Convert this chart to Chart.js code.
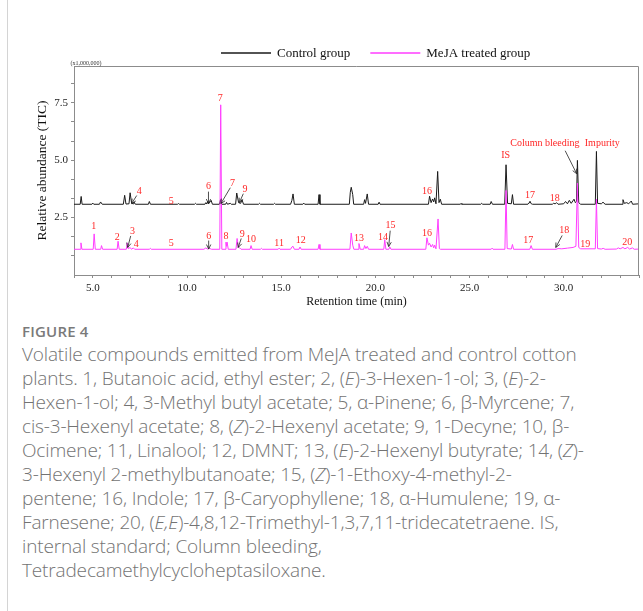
<!DOCTYPE html>
<html>
<head>
<meta charset="utf-8">
<script src="https://cdn.jsdelivr.net/npm/chart.js@4/dist/chart.umd.min.js"></script>
<style>
  html, body { margin: 0; padding: 0; background: #fff; }
  body { width: 643px; height: 611px; position: relative; overflow: hidden; }
  #edge { position: absolute; left: 7px; top: 0; width: 1px; height: 611px; background: #d4d4d4; }
  #wrap { position: absolute; left: 0; top: 0; width: 643px; height: 312px; }
  #caption { position: absolute; left: 22px; top: 320px; font-family: "Open Sans", sans-serif; color: #737373; }
  #caption .fig { font-size: 15px; font-weight: 600; color: #7a7a7a; line-height: 22px; letter-spacing: 0.2px; }
  #caption .txt { font-size: 19px; font-weight: 300; line-height: 24px; white-space: nowrap; letter-spacing: -0.15px; }
</style>
</head>
<body>
<div id="edge"></div>
<div id="wrap"><canvas id="gcms"></canvas></div>
<div id="caption">
  <div class="fig">FIGURE 4</div>
  <div class="txt">Volatile compounds emitted from MeJA treated and control cotton<br>plants. 1, Butanoic acid, ethyl ester; 2, (<i>E</i>)-3-Hexen-1-ol; 3, (<i>E</i>)-2-<br>Hexen-1-ol; 4, 3-Methyl butyl acetate; 5, α-Pinene; 6, β-Myrcene; 7,<br>cis-3-Hexenyl acetate; 8, (<i>Z</i>)-2-Hexenyl acetate; 9, 1-Decyne; 10, β-<br>Ocimene; 11, Linalool; 12, DMNT; 13, (<i>E</i>)-2-Hexenyl butyrate; 14, (<i>Z</i>)-<br>3-Hexenyl 2-methylbutanoate; 15, (<i>Z</i>)-1-Ethoxy-4-methyl-2-<br>pentene; 16, Indole; 17, β-Caryophyllene; 18, α-Humulene; 19, α-<br>Farnesene; 20, (<i>E,E</i>)-4,8,12-Trimethyl-1,3,7,11-tridecatetraene. IS,<br>internal standard; Column bleeding,<br>Tetradecamethylcycloheptasiloxane.</div>
</div>
<script>
// ── data (retention time in min, abundance x1,000,000) ──
const controlTime = [
  4.0, 4.33, 4.38, 4.43, 4.95, 5.0, 5.05, 5.35, 5.41, 5.5,
  6.62, 6.69, 6.76, 6.92, 6.98, 7.06, 7.15, 7.18, 7.26,
  7.95, 8.0, 8.06, 9.5, 9.55, 9.6, 10.4, 10.45, 10.5,
  10.95, 11.0, 11.05, 11.1, 11.15, 11.28, 11.35,
  11.72, 11.78, 11.84, 12.05, 12.1, 12.15, 12.3, 12.35,
  12.58, 12.64, 12.74, 12.85, 12.92, 13.0,
  13.8, 13.85, 13.9, 14.6, 14.65, 14.7,
  15.5, 15.57, 15.63, 15.7, 16.15, 16.2, 16.25,
  16.96, 17.01, 17.06, 18.62, 18.67, 18.72, 18.8, 18.85,
  19.38, 19.43, 19.48, 19.57, 19.64, 20.15, 20.2, 20.25,
  22.82, 22.88, 22.96, 23.04, 23.1, 23.15, 23.22, 23.31, 23.38, 23.45, 23.52,
  24.5, 24.55, 24.6, 25.6, 25.65, 25.7, 26.1, 26.15, 26.22,
  26.87, 26.94, 27.02, 27.22, 27.28, 27.34,
  28.1, 28.16, 28.21, 28.28, 28.35, 29.4, 29.45, 29.55, 29.62, 29.7,
  30.0, 30.1, 30.2, 30.3, 30.4, 30.55, 30.62, 30.68, 30.73, 30.8, 30.9,
  31.68, 31.74, 31.8, 32.0, 32.09, 32.2,
  33.1, 33.15, 33.22, 33.35, 33.45, 33.59, 33.66, 34.0
];
const controlAbund = [
  3.08, 3.08, 3.42, 3.08, 3.08, 3.13, 3.08, 3.08, 3.18, 3.08,
  3.08, 3.47, 3.09, 3.10, 3.58, 3.12, 3.10, 3.18, 3.08,
  3.08, 3.20, 3.08, 3.08, 3.11, 3.08, 3.08, 3.12, 3.08,
  3.08, 3.15, 3.09, 3.20, 3.10, 3.25, 3.08,
  3.08, 3.28, 3.08, 3.08, 3.16, 3.08, 3.12, 3.08,
  3.08, 3.57, 3.15, 3.12, 3.28, 3.08,
  3.08, 3.12, 3.08, 3.08, 3.12, 3.08,
  3.08, 3.25, 3.53, 3.08, 3.08, 3.13, 3.08,
  3.08, 3.50, 3.08, 3.08, 3.60, 3.82, 3.50, 3.08,
  3.08, 3.28, 3.12, 3.53, 3.08, 3.08, 3.17, 3.08,
  3.08, 3.43, 3.15, 3.31, 3.18, 3.36, 3.10, 4.51, 3.15, 3.30, 3.08,
  3.08, 3.11, 3.08, 3.08, 3.12, 3.08, 3.08, 3.20, 3.08,
  3.08, 4.80, 3.12, 3.10, 3.50, 3.08,
  3.08, 3.15, 3.21, 3.10, 3.08, 3.08, 3.12, 3.10, 3.15, 3.08,
  3.10, 3.20, 3.10, 3.25, 3.12, 3.30, 3.15, 3.20, 4.99, 3.15, 3.08,
  3.08, 5.38, 3.12, 3.10, 3.17, 3.08,
  3.08, 3.28, 3.12, 3.15, 3.10, 3.22, 3.08, 3.10
];
const mejaTime = [
  4.0, 4.33, 4.37, 4.42, 5.02, 5.07, 5.13, 5.42, 5.46, 5.52,
  6.29, 6.34, 6.40, 6.78, 6.83, 6.88, 6.98, 7.05, 7.15, 7.22,
  8.0, 8.05, 8.1, 10.9, 11.0, 11.08, 11.2, 11.3,
  11.74, 11.79, 11.85, 12.02, 12.07, 12.10, 12.13, 12.19,
  12.6, 12.66, 12.73, 12.8, 12.87, 13.35, 13.4, 13.46,
  13.9, 13.95, 14.0, 14.84, 14.89, 14.94,
  15.5, 15.57, 15.63, 15.7, 15.95, 16.0, 16.06,
  16.96, 17.01, 17.06, 18.65, 18.72, 18.8, 18.86,
  19.08, 19.13, 19.2, 19.38, 19.43, 19.5, 19.57, 19.64,
  20.45, 20.5, 20.56, 20.72, 20.77, 20.83,
  22.68, 22.74, 22.82, 22.88, 22.96, 23.04, 23.1, 23.15, 23.22, 23.33, 23.4, 23.46,
  26.15, 26.2, 26.25, 26.88, 26.94, 27.0, 27.22, 27.28, 27.34,
  28.2, 28.27, 28.34, 29.6, 29.7, 29.9, 30.2, 30.5, 30.65, 30.73, 30.8, 30.9,
  31.68, 31.74, 31.8, 32.0, 32.1, 32.2,
  32.8, 32.9, 33.0, 33.15, 33.25, 33.4, 33.5, 33.65, 33.75, 34.0
];
const mejaAbund = [
  1.12, 1.12, 1.40, 1.12, 1.12, 1.79, 1.12, 1.12, 1.28, 1.12,
  1.12, 1.47, 1.12, 1.12, 1.40, 1.14, 1.20, 1.12, 1.18, 1.12,
  1.12, 1.16, 1.12, 1.12, 1.18, 1.13, 1.16, 1.12,
  1.12, 7.41, 1.12, 1.12, 1.43, 1.25, 1.43, 1.12,
  1.12, 1.59, 1.20, 1.18, 1.12, 1.12, 1.28, 1.12,
  1.12, 1.16, 1.12, 1.12, 1.17, 1.12,
  1.12, 1.22, 1.25, 1.12, 1.12, 1.22, 1.12,
  1.12, 1.33, 1.12, 1.12, 1.83, 1.30, 1.12,
  1.12, 1.37, 1.12, 1.12, 1.28, 1.15, 1.25, 1.12,
  1.12, 1.54, 1.12, 1.12, 1.22, 1.12,
  1.12, 1.62, 1.30, 1.38, 1.22, 1.33, 1.18, 1.30, 1.14, 2.44, 1.15, 1.12,
  1.12, 1.17, 1.12, 1.12, 3.68, 1.15, 1.13, 1.33, 1.12,
  1.12, 1.28, 1.12, 1.12, 1.15, 1.14, 1.17, 1.20, 1.25, 4.00, 1.20, 1.14,
  1.14, 3.30, 1.15, 1.13, 1.16, 1.12,
  1.13, 1.18, 1.14, 1.20, 1.14, 1.20, 1.13, 1.18, 1.12, 1.13
];

// axis ticks
const xTickLabels = [5, 10, 15, 20, 25, 30];
const yMinorTicks = [0.833, 1.667, 2.5, 3.333, 4.167, 5.0, 5.833, 6.667, 7.5, 8.333];
const yTickLabels = [2.5, 5.0, 7.5];

// peak annotations [text, time, abundance]
const peakLabels = [
  ['4', 7.47, 3.64], ['5', 9.16, 3.21], ['6', 11.14, 3.86], ['7', 12.42, 4.01],
  ['9', 13.08, 3.72], ['16', 22.74, 3.62], ['IS', 26.92, 5.21], ['17', 28.21, 3.46],
  ['18', 29.53, 3.33], ['Column bleeding', 29.0, 5.72], ['Impurity', 32.05, 5.72],
  ['1', 5.05, 2.12], ['2', 6.29, 1.64], ['3', 7.10, 1.90], ['4', 7.30, 1.33],
  ['5', 9.16, 1.37], ['6', 11.15, 1.69], ['7', 11.77, 7.70], ['8', 12.07, 1.69],
  ['9', 12.94, 1.78], ['10', 13.40, 1.54], ['11', 14.89, 1.37], ['12', 16.04, 1.50],
  ['13', 19.13, 1.59], ['14', 20.41, 1.64], ['15', 20.80, 2.15], ['16', 22.74, 1.80],
  ['17', 28.12, 1.51], ['18', 30.03, 1.95], ['19', 31.15, 1.33], ['20', 33.38, 1.40]
];
// arrows [fromTime, fromAbund, toTime, toAbund]
const peakArrows = [
  [7.33, 3.46, 7.06, 3.11], [11.14, 3.63, 11.14, 3.11], [12.30, 3.80, 11.80, 3.11],
  [12.99, 3.54, 12.78, 3.15], [30.08, 5.41, 30.69, 4.41],
  [7.01, 1.70, 6.85, 1.20], [11.15, 1.50, 11.15, 1.13], [12.88, 1.59, 12.72, 1.20],
  [20.79, 1.93, 20.71, 1.24], [29.92, 1.72, 29.58, 1.20]
];

const SERIF = '"Liberation Serif", "Times New Roman", serif';
const AXIS = '#8c8c8c';

function toPoints(ts, vs) {
  return ts.map(function (t, i) { return { x: t, y: vs[i] }; });
}

// red labels, arrows, frame, multiplier and the line legend
const annotate = {
  id: 'annotate',
  afterDatasetsDraw(chart) {
    const { ctx, chartArea: a, scales: { x, y } } = chart;
    ctx.save();

    ctx.strokeStyle = AXIS;
    ctx.lineWidth = 1;
    ctx.beginPath();
    ctx.moveTo(a.left, a.top + 0.5);
    ctx.lineTo(a.right - 0.5, a.top + 0.5);
    ctx.lineTo(a.right - 0.5, a.bottom);
    ctx.stroke();

    ctx.fillStyle = '#ff2626';
    ctx.font = '10px ' + SERIF;
    ctx.textAlign = 'center';
    ctx.textBaseline = 'middle';
    peakLabels.forEach(function (p) {
      ctx.fillText(p[0], x.getPixelForValue(p[1]), y.getPixelForValue(p[2]));
    });

    ctx.strokeStyle = '#222';
    ctx.lineWidth = 0.8;
    peakArrows.forEach(function (r) {
      const x1 = x.getPixelForValue(r[0]), y1 = y.getPixelForValue(r[1]);
      const x2 = x.getPixelForValue(r[2]), y2 = y.getPixelForValue(r[3]);
      const ang = Math.atan2(y2 - y1, x2 - x1);
      ctx.beginPath();
      ctx.moveTo(x1, y1);
      ctx.lineTo(x2, y2);
      ctx.moveTo(x2 - 5 * Math.cos(ang - 0.45), y2 - 5 * Math.sin(ang - 0.45));
      ctx.lineTo(x2, y2);
      ctx.lineTo(x2 - 5 * Math.cos(ang + 0.45), y2 - 5 * Math.sin(ang + 0.45));
      ctx.stroke();
    });

    ctx.fillStyle = '#333';
    ctx.font = '6px ' + SERIF;
    ctx.fillText('(x1,000,000)', a.left + 12, a.top - 3);

    // legend
    ctx.font = '13px ' + SERIF;
    ctx.textAlign = 'left';
    let lx = a.left + 147;
    const ly = a.top - 13;
    chart.data.datasets.forEach(function (ds) {
      ctx.strokeStyle = ds.borderColor;
      ctx.lineWidth = 1.4;
      ctx.beginPath();
      ctx.moveTo(lx, ly);
      ctx.lineTo(lx + 50, ly);
      ctx.stroke();
      ctx.fillStyle = '#111';
      ctx.fillText(ds.label, lx + 56, ly + 1);
      lx += 56 + ctx.measureText(ds.label).width + 20;
    });
    ctx.restore();
  }
};

new Chart(document.getElementById('gcms'), {
  type: 'line',
  data: {
    datasets: [
      {
        label: 'Control group',
        data: toPoints(controlTime, controlAbund),
        borderColor: '#1a1a1a',
        borderWidth: 1,
        pointRadius: 0,
        order: 1,
      },
      {
        label: 'MeJA treated group',
        data: toPoints(mejaTime, mejaAbund),
        borderColor: '#ff3dff',
        borderWidth: 1,
        pointRadius: 0,
        order: 0,
      },
    ],
  },
  options: {
    responsive: true,
    maintainAspectRatio: false,
    animation: false,
    layout: { padding: { top: 66, left: 0, right: 2, bottom: 0 } },
    plugins: { legend: { display: false }, tooltip: { enabled: false } },
    scales: {
      x: {
        type: 'linear',
        min: 4,
        max: 34,
        afterBuildTicks: function (s) {
          const t = [];
          for (let v = 4; v <= 34; v++) t.push({ value: v });
          s.ticks = t;
        },
        afterFit: function (s) { s.height = 37; },
        ticks: {
          autoSkip: false,
          maxRotation: 0,
          padding: 4,
          color: '#222',
          font: { family: SERIF, size: 11 },
          callback: function (v) { return xTickLabels.includes(v) ? v.toFixed(1) : ''; },
        },
        grid: { drawOnChartArea: false, tickLength: 3, color: AXIS },
        border: { color: AXIS },
        title: {
          display: true,
          text: 'Retention time (min)',
          color: '#111',
          font: { family: SERIF, size: 12 },
          padding: { top: 0, bottom: 3 },
        },
      },
      y: {
        min: 0,
        max: 9.1,
        afterBuildTicks: function (s) {
          s.ticks = yMinorTicks.map(function (v) { return { value: v }; });
        },
        afterFit: function (s) { s.width = 74; },
        ticks: {
          autoSkip: false,
          padding: 3,
          color: '#222',
          font: { family: SERIF, size: 11 },
          callback: function (v) {
            const hit = yTickLabels.find(function (l) { return Math.abs(l - v) < 0.01; });
            return hit ? hit.toFixed(1) : '';
          },
        },
        grid: { drawOnChartArea: false, tickLength: 3, color: AXIS },
        border: { color: AXIS },
        title: {
          display: true,
          text: 'Relative abundance (TIC)',
          color: '#111',
          font: { family: SERIF, size: 13.5 },
          padding: { top: 34, bottom: 0 },
        },
      },
    },
  },
  plugins: [annotate],
});
</script>
</body>
</html>
